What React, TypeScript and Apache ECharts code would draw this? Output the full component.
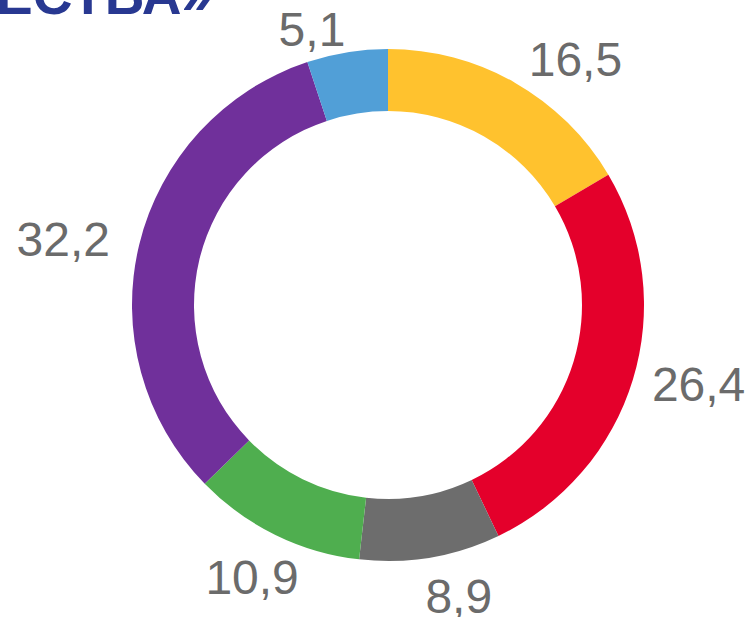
import React, { useEffect, useRef } from "react";
import * as echarts from "echarts";

const categories = ["A", "B", "C", "D", "E", "F"];
const values = [16.5, 26.4, 8.9, 10.9, 32.2, 5.1];
const colors = ["#FFC22E", "#E4002B", "#6D6D6D", "#4FAE4F", "#70309B", "#519FD7"];
const labelNudges = [
  [2, -2],
  [-4, -2],
  [-9, 15],
  [34, 21],
  [-6, 1],
  [2, 1],
];
const titleText = "ОБЩЕСТВА»";

export default function App() {
  const ref = useRef<HTMLDivElement>(null);
  useEffect(() => {
    document.body.style.margin = "0";
    const chart = echarts.init(ref.current!, null, { renderer: "svg" });
    chart.setOption({
      animation: false,
      backgroundColor: "#ffffff",
      graphic: [
        {
          type: "text",
          right: 748 - 212,
          top: -33,
          style: {
            text: titleText,
            fontFamily: "Liberation Sans, Arial, sans-serif",
            fontWeight: "bold",
            fontSize: 55,
            fill: "#283891",
          },
        },
      ],
      series: [
        {
          type: "pie",
          center: [388, 305],
          radius: [194, 256],
          startAngle: 90,
          clockwise: true,
          avoidLabelOverlap: false,
          silent: true,
          label: {
            show: true,
            position: "outside",
            formatter: (p: any) => String(p.value).replace(".", ","),
            fontFamily: "Liberation Sans, Arial, sans-serif",
            fontSize: 48,
            color: "#6B6B6B",
            distanceToLabelLine: 0,
          },
          labelLine: { show: false, length: 24, length2: 0 },
          labelLayout: (params: any) => ({
            dx: labelNudges[params.dataIndex][0],
            dy: labelNudges[params.dataIndex][1],
          }),
          data: categories.map((c, i) => ({
            name: c,
            value: values[i],
            itemStyle: { color: colors[i] },
          })),
        },
      ],
    });
    return () => chart.dispose();
  }, []);
  return (
    <div
      ref={ref}
      style={{ position: "fixed", left: 0, top: 0, width: 748, height: 617 }}
    />
  );
}
